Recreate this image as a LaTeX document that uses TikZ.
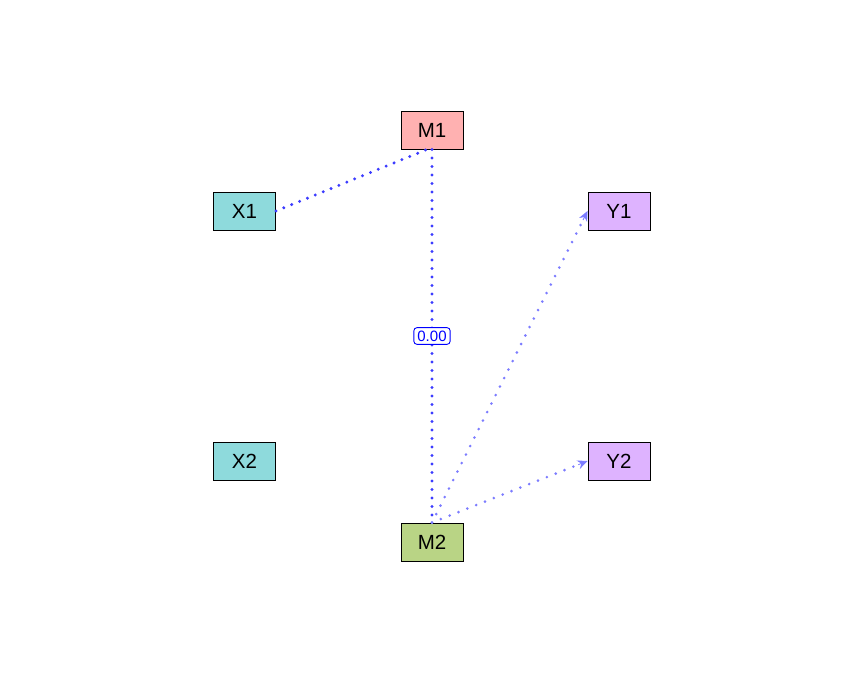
\documentclass[tikz,border=0pt]{standalone}
\usepackage{fontspec}
\setmainfont{Liberation Sans}
\usetikzlibrary{arrows.meta,calc}
\definecolor{mpink}{HTML}{FFB1B1}
\definecolor{xcyan}{HTML}{8EDADC}
\definecolor{ylilac}{HTML}{DEB3FF}
\definecolor{mgreen}{HTML}{B9D485}
\definecolor{pathblue}{HTML}{3C3CFF}
\definecolor{lightpath}{HTML}{7C7CFF}
\tikzset{
  var/.style={draw=black, line width=0.9pt, minimum width=62pt, minimum height=38pt,
    inner sep=0pt, font=\fontsize{20.5}{20.5}\selectfont},
  strongpath/.style={draw=pathblue, line width=3.3pt, line cap=round,
    dash pattern=on 0pt off 8.5pt},
  weakpath/.style={draw=lightpath, line width=2.9pt, line cap=round,
    dash pattern=on 0pt off 9.5pt},
  tip/.style={draw=lightpath, fill=lightpath, line width=0.8pt, solid,
    -{Stealth[length=10pt,width=9pt]}},
  coef/.style={draw=blue, fill=white, text=blue, rounded corners=3pt, line width=0.9pt,
    inner xsep=3.5pt, inner ysep=3pt, font=\fontsize{15}{15}\selectfont}
}
\begin{document}
\begin{tikzpicture}[x=1pt, y=-1pt]
\useasboundingbox (0,0) rectangle (864,672);
% observed variables
\node[var, fill=mpink]  (M1) at (432,130) {M1};
\node[var, fill=xcyan]  (X1) at (244.5,211) {X1};
\node[var, fill=ylilac] (Y1) at (619,211) {Y1};
\node[var, fill=xcyan]  (X2) at (244.5,461) {X2};
\node[var, fill=ylilac] (Y2) at (619,461) {Y2};
\node[var, fill=mgreen] (M2) at (432,542) {M2};
% paths
\draw[strongpath] (X1.east) -- ([xshift=-5pt]M1.south);
\draw[strongpath] (M1.south) -- node[coef, solid] (c12) {0.00} (M2.north);
\draw[weakpath] (M2.north) -- (Y1.west);
\draw[weakpath] (M2.north) -- (Y2.west);
% arrow heads
\draw[tip] ($(Y1.west)!10pt!(M2.north)$) -- (Y1.west);
\draw[tip] ($(Y2.west)!10pt!(M2.north)$) -- (Y2.west);
\end{tikzpicture}
\end{document}
